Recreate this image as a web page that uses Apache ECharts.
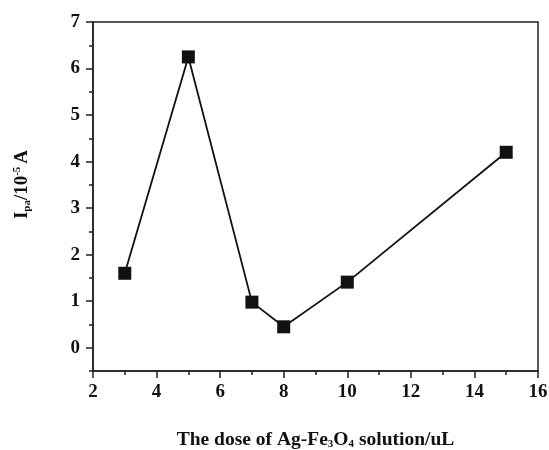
<!DOCTYPE html>
<html>
<head>
<meta charset="utf-8">
<script src="https://cdn.jsdelivr.net/npm/echarts@6/dist/echarts.min.js"></script>
<style>
  html, body { margin: 0; padding: 0; background: #fff; }
  #chart { width: 549px; height: 450px; }
</style>
</head>
<body>
<div id="chart"></div>
<script>
// dose (uL) vs peak current
const doses = [3, 5, 7, 8, 10, 15];
const ipa = [1.6, 6.25, 0.98, 0.45, 1.41, 4.2];
const yMajorTicks = [0, 1, 2, 3, 4, 5, 6, 7];
const yMinorTicks = [-0.5, 0.5, 1.5, 2.5, 3.5, 4.5, 5.5, 6.5];

const font = 'Liberation Serif';
const chart = echarts.init(document.getElementById('chart'));

const option = {
  backgroundColor: '#fff',
  animation: false,
  grid: {
    left: 93, right: 11, top: 22, bottom: 79,
    outerBoundsMode: 'none',
    show: true, borderColor: '#222', borderWidth: 1.5
  },
  xAxis: {
    type: 'value',
    min: 2, max: 16, interval: 2,
    name: '{b|The dose of Ag-Fe}{sub|3}{b|O}{sub|4}{b| solution/uL}',
    nameLocation: 'middle',
    nameGap: 58,
    nameTextStyle: {
      rich: {
        b: { fontFamily: font, fontWeight: 'bold', fontSize: 19.5, color: '#111' },
        sub: { fontFamily: font, fontWeight: 'bold', fontSize: 11, color: '#111', padding: [10, 0, 0, 0] }
      }
    },
    axisLine: { onZero: false, lineStyle: { color: '#222', width: 1.5 } },
    axisTick: { inside: false, length: 7, lineStyle: { color: '#222', width: 1.5 } },
    minorTick: { show: true, splitNumber: 2, length: 4, lineStyle: { color: '#222', width: 1.5 } },
    axisLabel: { fontFamily: font, fontWeight: 'bold', fontSize: 19, color: '#111', margin: 12 },
    splitLine: { show: false }
  },
  yAxis: [{
    type: 'value',
    min: -0.5, max: 7, interval: 0.5,
    name: '{b|I}{sub|pa}{b|/10}{sup|-5}{b|A}',
    nameLocation: 'middle',
    nameGap: 60,
    nameTextStyle: {
      padding: [0, 0, 0, 24],
      rich: {
        b: { fontFamily: font, fontWeight: 'bold', fontSize: 19, color: '#111' },
        sub: { fontFamily: font, fontWeight: 'bold', fontSize: 11, color: '#111', padding: [10, 0, 0, 0] },
        sup: { fontFamily: font, fontWeight: 'bold', fontSize: 11, color: '#111', padding: [0, 3, 10, 0] }
      }
    },
    axisLine: { show: true, onZero: false, lineStyle: { color: '#222', width: 1.5 } },
    axisTick: { show: true, customValues: yMajorTicks, length: 7, lineStyle: { color: '#222', width: 1.5 } },
    axisLabel: {
      customValues: yMajorTicks,
      fontFamily: font, fontWeight: 'bold', fontSize: 19, color: '#111', margin: 13
    },
    splitLine: { show: false }
  }, {
    type: 'value',
    position: 'left',
    min: -0.5, max: 7, interval: 0.5,
    axisLine: { show: false, onZero: false },
    axisTick: { show: true, customValues: yMinorTicks, length: 4, lineStyle: { color: '#222', width: 1.5 } },
    axisLabel: { show: false },
    splitLine: { show: false }
  }],
  series: [{
    type: 'line',
    data: doses.map((d, i) => [d, ipa[i]]),
    symbol: 'rect',
    symbolSize: 13,
    lineStyle: { color: '#111', width: 1.8 },
    itemStyle: { color: '#111' }
  }]
};

chart.setOption(option);
</script>
</body>
</html>
